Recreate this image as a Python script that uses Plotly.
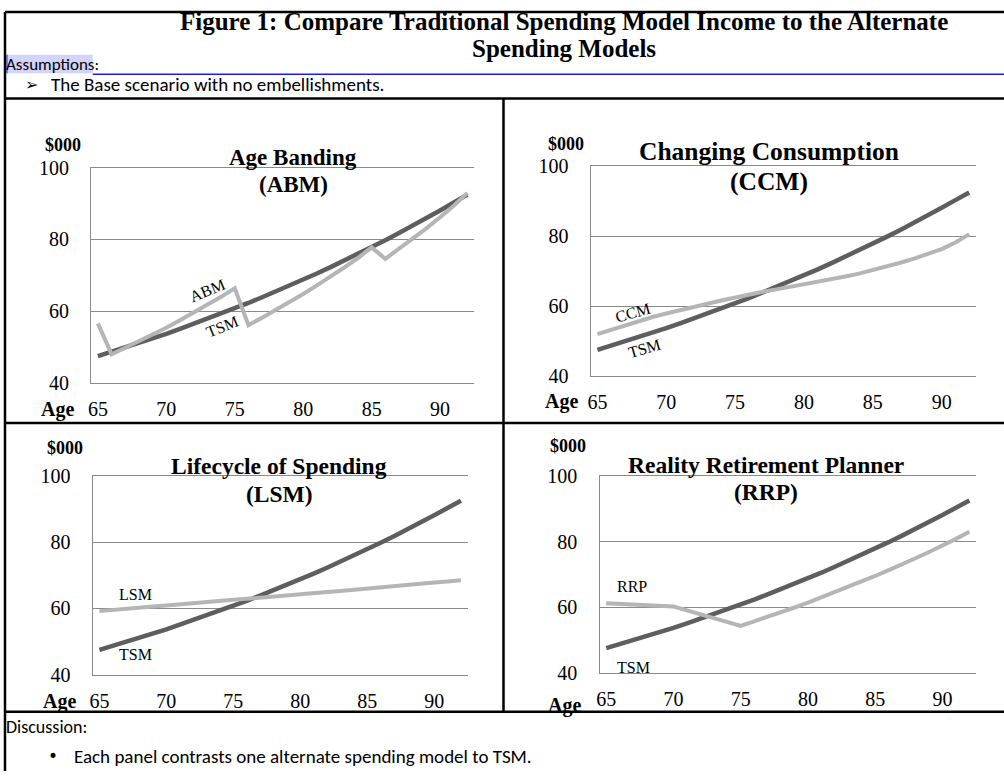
import plotly.graph_objects as go

# ---------------- data ----------------
ages = list(range(65, 93))
age_ticks = [65, 70, 75, 80, 85, 90]
income_ticks = [40, 60, 80, 100]

# Traditional Spending Model income ($000)
tsm = [47.5, 48.7, 49.9, 51.2, 52.4, 53.7, 55.1, 56.5, 57.9, 59.3,
       60.8, 62.3, 63.9, 65.5, 67.1, 68.8, 70.5, 72.3, 74.1, 75.9,
       77.8, 79.8, 81.8, 83.8, 85.9, 88.1, 90.3, 92.5]
# Age Banding model
abm = [56.6, 48.0, 49.8, 51.6, 53.5, 55.4, 57.5, 59.6, 61.8, 64.0,
       66.4, 56.1, 58.2, 60.3, 62.5, 64.8, 67.2, 69.6, 72.2, 74.8,
       77.8, 74.6, 77.4, 80.2, 83.1, 86.2, 89.4, 93.0]
# Changing Consumption model
ccm = [52.0, 53.3, 54.6, 55.8, 56.9, 57.9, 58.9, 59.8, 60.7, 61.6,
       62.5, 63.3, 64.1, 64.8, 65.5, 66.2, 66.9, 67.7, 68.5, 69.3,
       70.3, 71.3, 72.4, 73.6, 74.9, 76.3, 78.2, 80.6]
# Lifecycle of Spending model
lsm = [59.2, 59.6, 59.9, 60.3, 60.6, 60.9, 61.3, 61.6, 61.9, 62.3,
       62.6, 62.9, 63.3, 63.6, 63.9, 64.3, 64.6, 65.0, 65.3, 65.7,
       66.0, 66.4, 66.7, 67.1, 67.4, 67.8, 68.1, 68.5]
# Reality Retirement Planner
rrp = [61.2, 61.0, 60.8, 60.6, 60.4, 60.2, 59.0, 57.8, 56.6, 55.5,
       54.3, 55.7, 57.0, 58.5, 59.9, 61.4, 63.0, 64.5, 66.2, 67.8,
       69.5, 71.3, 73.0, 74.9, 76.8, 78.7, 80.8, 83.0]

title_lines = ["Figure 1: Compare Traditional Spending Model Income to the Alternate",
               "Spending Models"]
assumption_text = "The Base scenario with no embellishments."
discussion_text = "Each panel contrasts one alternate spending model to TSM."

W, H = 1004, 782
SERIF = "Liberation Serif, Times New Roman, serif"
SANS = "Carlito, Lato, Calibri, sans-serif"
TSM_COLOR = "#5e5e5e"
ALT_COLOR = "#b5b5b5"
GRID = "#8a8a8a"


def fx(px):
    return px / W


def fy(py):
    return 1 - py / H


panels = [
    dict(name="ABM", series=abm, title=("Age Banding", "(ABM)"), tsize=23,
         box=(88.3, 472.7, 161.3, 382.7), t1=(291, 151), t2=(291, 179),
         dollar=(60, 138), agelab=(55, 410),
         alt_lab=(73.0, 65.9, -22), tsm_lab=(74.1, 55.6, -22)),
    dict(name="CCM", series=ccm, title=("Changing Consumption", "(CCM)"), tsize=25.5,
         box=(589.3, 976, 159.7, 375.7), t1=(768, 145), t2=(768, 175),
         dollar=(565, 137), agelab=(560, 402),
         alt_lab=(67.6, 58.3, -16), tsm_lab=(68.4, 47.9, -16)),
    dict(name="LSM", series=lsm, title=("Lifecycle of Spending", "(LSM)"), tsize=23.5,
         box=(90, 466, 478.3, 683), t1=(277, 468), t2=(277, 497),
         dollar=(62, 450), agelab=(57, 711),
         alt_lab=(67.7, 64.1, 0), tsm_lab=(67.7, 46.1, 0)),
    dict(name="RRP", series=rrp, title=("Reality Retirement Planner", "(RRP)"), tsize=23.5,
         box=(598.3, 976, 478.3, 681), t1=(765, 467), t2=(765, 495),
         dollar=(567, 448), agelab=(563, 715),
         alt_lab=(66.9, 66.2, 0), tsm_lab=(67.0, 41.6, 0)),
]

fig = go.Figure()
annotations = []
shapes = []

for i, p in enumerate(panels, start=1):
    xa = "x" if i == 1 else f"x{i}"
    ya = "y" if i == 1 else f"y{i}"
    x0, x1, y0, y1 = p["box"]
    fig.add_trace(go.Scatter(x=ages, y=tsm, mode="lines", xaxis=xa, yaxis=ya,
                             line=dict(color=TSM_COLOR, width=4.5), name="TSM",
                             showlegend=False, hoverinfo="skip"))
    fig.add_trace(go.Scatter(x=ages, y=p["series"], mode="lines", xaxis=xa, yaxis=ya,
                             line=dict(color=ALT_COLOR, width=4), name=p["name"],
                             showlegend=False, hoverinfo="skip"))
    ax_x = dict(domain=[fx(x0), fx(x1)], range=[64.5, 92.5], anchor=ya,
                tickmode="array", tickvals=age_ticks, ticks="",
                ticklabelstandoff=8, showgrid=False, zeroline=False,
                showline=True, linecolor=GRID, linewidth=1.3, mirror=True,
                tickfont=dict(family=SERIF, size=20, color="black"), fixedrange=True)
    ax_y = dict(domain=[fy(y1), fy(y0)], range=[40, 100], anchor=xa,
                tickmode="array", tickvals=income_ticks, ticks="",
                ticklabelstandoff=17, showgrid=True, gridcolor=GRID, gridwidth=1.3,
                zeroline=False, showline=True, linecolor=GRID, linewidth=1.3,
                tickfont=dict(family=SERIF, size=20, color="black"), fixedrange=True)
    fig.update_layout({("xaxis" if i == 1 else f"xaxis{i}"): ax_x,
                       ("yaxis" if i == 1 else f"yaxis{i}"): ax_y})

    # panel title
    for txt, pos in ((p["title"][0], p["t1"]), (p["title"][1], p["t2"])):
        annotations.append(dict(text=f"<b>{txt}</b>", x=fx(pos[0]), y=fy(pos[1]),
                                xref="paper", yref="paper", showarrow=False,
                                xanchor="center", yanchor="middle",
                                font=dict(family=SERIF, size=p["tsize"], color="black")))
    annotations.append(dict(text="<b>$000</b>", x=fx(p["dollar"][0]), y=fy(p["dollar"][1]),
                            xref="paper", yref="paper", showarrow=False,
                            xanchor="center", yanchor="middle",
                            font=dict(family=SERIF, size=18, color="black")))
    annotations.append(dict(text="<b>Age</b>", x=fx(p["agelab"][0]), y=fy(p["agelab"][1]),
                            xref="paper", yref="paper", showarrow=False,
                            xanchor="center", yanchor="middle",
                            font=dict(family=SERIF, size=20, color="black")))
    # series labels
    for txt, (lx, ly, ang) in ((p["name"], p["alt_lab"]), ("TSM", p["tsm_lab"])):
        annotations.append(dict(text=txt, x=lx, y=ly, xref=xa, yref=ya,
                                showarrow=False, textangle=ang,
                                xanchor="center", yanchor="middle",
                                font=dict(family=SERIF, size=16, color="black")))

# ---------------- document frame ----------------
frame_lines = [
    (2, 1, 1004, 1),      # top border
    (2, 1, 2, 782),       # left border
    (2, 90, 1004, 90),    # under assumptions
    (2, 424, 1004, 424),  # between panel rows
    (2, 721, 1004, 721),  # above discussion
    (502, 90, 502, 721),  # column divider
]
for xa0, ya0, xa1, ya1 in frame_lines:
    shapes.append(dict(type="line", xref="paper", yref="paper",
                       x0=fx(xa0), y0=fy(ya0), x1=fx(xa1), y1=fy(ya1),
                       line=dict(color="black", width=2.5)))

# highlighted "Assumptions" word and blue rule
HL_END = 90
shapes.append(dict(type="rect", xref="paper", yref="paper",
                   x0=fx(3), x1=fx(HL_END), y0=fy(64), y1=fy(45),
                   fillcolor="#d3d3fb", line=dict(width=0), layer="below"))
shapes.append(dict(type="line", xref="paper", yref="paper",
                   x0=fx(4), x1=fx(4), y0=fy(64), y1=fy(45),
                   line=dict(color="#2a2ad8", width=1)))
shapes.append(dict(type="line", xref="paper", yref="paper",
                   x0=fx(HL_END), x1=fx(1004), y0=fy(65), y1=fy(65),
                   line=dict(color="#1e1ee0", width=1.5)))

for txt, yy in zip(title_lines, (11, 38.5)):
    annotations.append(dict(text=f"<b>{txt}</b>", x=fx(563), y=fy(yy),
                            xref="paper", yref="paper", showarrow=False,
                            xanchor="center", yanchor="middle",
                            borderpad=0,
                            font=dict(family=SERIF, size=25, color="black")))
annotations.append(dict(text="Assumptions:", x=fx(1), y=fy(55),
                        xref="paper", yref="paper", showarrow=False,
                        xanchor="left", yanchor="middle",
                        font=dict(family=SANS, size=17, color="black")))
annotations.append(dict(text="➢", x=fx(29), y=fy(76),
                        xref="paper", yref="paper", showarrow=False,
                        xanchor="center", yanchor="middle",
                        font=dict(family="DejaVu Sans", size=16, color="black")))
annotations.append(dict(text=assumption_text, x=fx(46), y=fy(76),
                        xref="paper", yref="paper", showarrow=False,
                        xanchor="left", yanchor="middle",
                        font=dict(family=SANS, size=19, color="black")))
annotations.append(dict(text="Discussion:", x=fx(1), y=fy(737),
                        xref="paper", yref="paper", showarrow=False,
                        xanchor="left", yanchor="middle",
                        font=dict(family=SANS, size=18, color="black")))
annotations.append(dict(text="•", x=fx(50), y=fy(767),
                        xref="paper", yref="paper", showarrow=False,
                        xanchor="center", yanchor="middle",
                        font=dict(family="DejaVu Sans", size=17, color="black")))
annotations.append(dict(text=discussion_text, x=fx(69), y=fy(767),
                        xref="paper", yref="paper", showarrow=False,
                        xanchor="left", yanchor="middle",
                        font=dict(family=SANS, size=19, color="black")))

fig.update_layout(width=W, height=H, autosize=False,
                  margin=dict(l=0, r=0, t=0, b=0, pad=0),
                  paper_bgcolor="white", plot_bgcolor="white",
                  showlegend=False, annotations=annotations, shapes=shapes)

fig.write_html("out.html")
